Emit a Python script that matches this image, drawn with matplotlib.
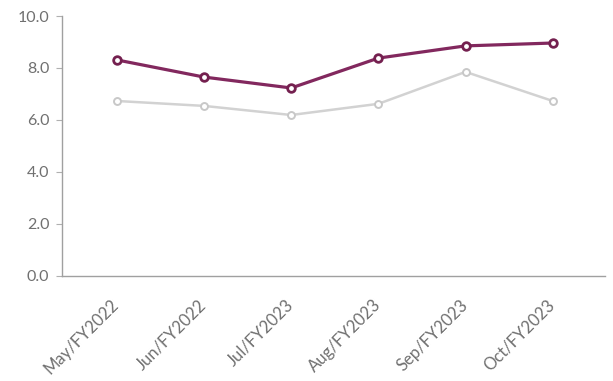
import matplotlib
matplotlib.use("Agg")
import matplotlib.pyplot as plt
from matplotlib.transforms import ScaledTranslation

months = ["May/FY2022", "Jun/FY2022", "Jul/FY2023", "Aug/FY2023", "Sep/FY2023", "Oct/FY2023"]
main_vals = [8.31, 7.65, 7.23, 8.38, 8.85, 8.96]
ref_vals = [6.73, 6.54, 6.19, 6.62, 7.85, 6.73]

plt.rcParams["font.family"] = ["Lato", "DejaVu Sans"]

fig = plt.figure(figsize=(6.13, 3.81), dpi=100)
ax = fig.add_axes((0.101, 0.276, 0.886, 0.682))

x = list(range(len(months)))
ax.plot(x, ref_vals, color="#d2d2d2", lw=1.8, marker="o", ms=5,
        mfc="white", mec="#c8c8c8", mew=1.4, zorder=2)
ax.plot(x, main_vals, color="#82285e", lw=2.3, marker="o", ms=5.5,
        mfc="white", mec="#74204f", mew=2, zorder=3)

ax.set_xlim(-0.63, 5.6)
ax.set_ylim(0, 10)
ax.set_yticks([0, 2, 4, 6, 8, 10])
ax.set_yticklabels([f"{v:.1f}" for v in [0, 2, 4, 6, 8, 10]])
ax.set_xticks(x)
ax.set_xticklabels(months, rotation=45, ha="right", rotation_mode="anchor")

for s in ["top", "right"]:
    ax.spines[s].set_visible(False)
for s in ["left", "bottom"]:
    ax.spines[s].set_color("#a0a0a0")
    ax.spines[s].set_linewidth(1)

ax.tick_params(axis="y", length=4, color="#b0b0b0", labelsize=11.5,
               labelcolor="#707070", pad=5)
ax.tick_params(axis="x", length=0, labelsize=12, labelcolor="#707070", pad=15)
shift = ScaledTranslation(-6 / 100, 0, fig.dpi_scale_trans)
for lbl in ax.get_xticklabels():
    lbl.set_transform(lbl.get_transform() + shift)

fig.savefig("out.png", dpi=100, facecolor="white")
